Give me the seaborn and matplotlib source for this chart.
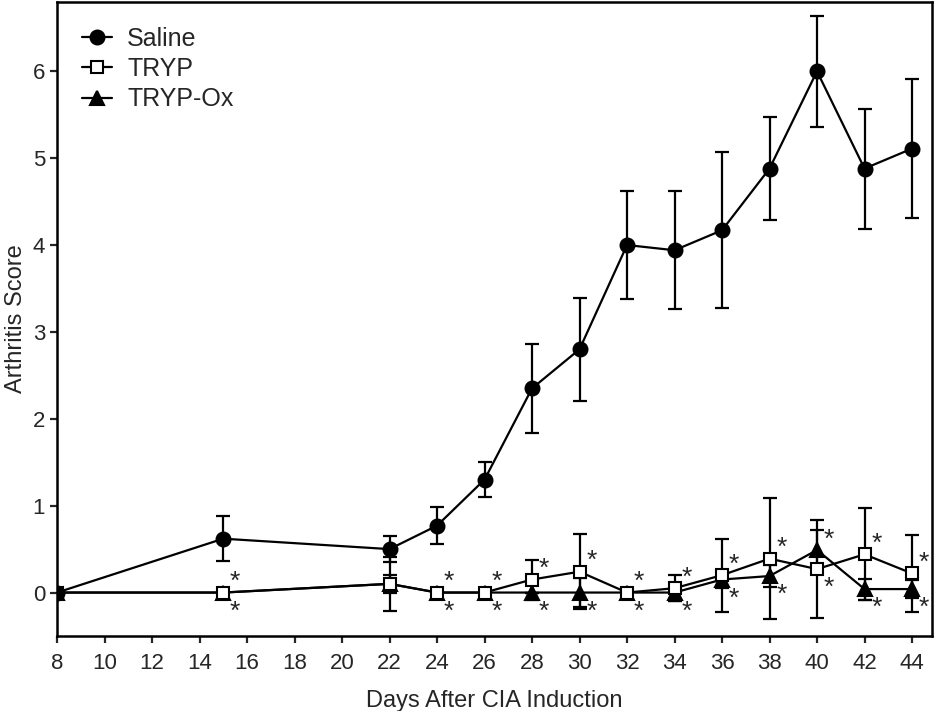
import numpy as np
import matplotlib
matplotlib.use("Agg")
import matplotlib.pyplot as plt
import seaborn as sns
import pandas as pd

days = [8, 15, 22, 24, 26, 28, 30, 32, 34, 36, 38, 40, 42, 44]

saline = [0, 0.62, 0.50, 0.77, 1.30, 2.35, 2.80, 4.00, 3.94, 4.17, 4.88, 6.00, 4.88, 5.11]
saline_err = [0, 0.26, 0.15, 0.21, 0.20, 0.51, 0.59, 0.62, 0.68, 0.90, 0.59, 0.64, 0.69, 0.80]

tryp = [0, 0, 0.10, 0, 0, 0.15, 0.24, 0, 0.05, 0.20, 0.39, 0.27, 0.44, 0.22]
tryp_err = [0, 0, 0.31, 0, 0, 0.23, 0.43, 0, 0.15, 0.42, 0.70, 0.56, 0.53, 0.44]

tryp_ox = [0, 0, 0.10, 0, 0, 0, 0, 0, 0, 0.15, 0.19, 0.49, 0.04, 0.04]
tryp_ox_err = [0, 0, 0.10, 0, 0, 0, 0.17, 0, 0.10, 0.10, 0.13, 0.23, 0.12, 0.10]

star_days = [15, 24, 26, 28, 30, 32, 34, 36, 38, 40, 42, 44]

sns.set_style("ticks")
plt.rcParams['font.family'] = ['Liberation Sans', 'DejaVu Sans']

fig = plt.figure(figsize=(9.35, 7.11), dpi=100)
ax = fig.add_axes([0.061, 0.1055, 0.936, 0.892])

# name, values, error, marker, face colour, size, layer
series = [
    ("Saline", saline, saline_err, "o", "black", 10, 7),
    ("TRYP", tryp, tryp_err, "s", "white", 8.5, 6),
    ("TRYP-Ox", tryp_ox, tryp_ox_err, "^", "black", 9.5, 5),
]

for name, vals, err, mk, fc, ms, z in series:
    ax.errorbar(days, vals, yerr=err, fmt="none", ecolor="black",
                elinewidth=1.6, capsize=5, capthick=1.6, zorder=z - 3)
    df = pd.DataFrame({"day": days, "score": vals})
    sns.lineplot(data=df, x="day", y="score", ax=ax, color="black", lw=1.6,
                 marker=mk, markersize=ms, markerfacecolor=fc,
                 markeredgecolor="black", markeredgewidth=1.5,
                 label=name, zorder=z)

# significance stars next to the treated groups
for d in star_days:
    k = days.index(d)
    hi = max(tryp[k], tryp_ox[k])
    lo = min(tryp[k], tryp_ox[k])
    ax.text(d + 0.5, hi + 0.12, "*", fontsize=19, ha="center", va="center")
    ax.text(d + 0.5, lo - 0.22, "*", fontsize=19, ha="center", va="center")

ax.set_xlim(8, 44.85)
ax.set_ylim(-0.5, 6.8)
ax.set_xticks(np.arange(8, 45, 2))
ax.set_yticks(np.arange(0, 7, 1))
ax.set_xlabel("Days After CIA Induction", fontsize=17, labelpad=12)
ax.set_ylabel("Arthritis Score", fontsize=17, labelpad=4)
ax.tick_params(labelsize=16, width=1.6, length=5, direction="out")
ax.tick_params(axis="x", pad=7)
for s in ax.spines.values():
    s.set_linewidth(1.8)
    s.set_color("black")

handles, labels = ax.get_legend_handles_labels()
ax.legend(handles, labels, loc="upper left", frameon=False, fontsize=18,
          handlelength=1.2, borderaxespad=0.6, labelspacing=0.25,
          handletextpad=0.6)

fig.savefig("out.png", dpi=100)
